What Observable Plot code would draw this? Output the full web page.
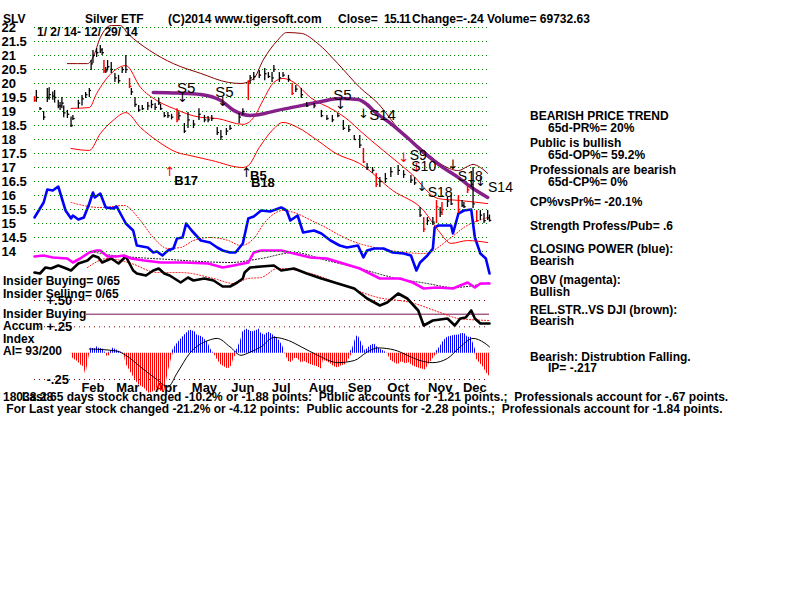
<!DOCTYPE html>
<html><head><meta charset="utf-8">
<script src="https://cdn.jsdelivr.net/npm/d3@7"></script>
<script src="https://cdn.jsdelivr.net/npm/@observablehq/plot@0.6"></script>
<style>
body{margin:0;background:#fff}
#wrap{position:relative;width:800px;height:600px;overflow:hidden;background:#fff;font-family:"Liberation Sans",Arial,sans-serif}
#wrap svg{position:absolute;left:0;top:0}
.t{position:absolute;white-space:pre;font-weight:bold;font-size:12px;line-height:15px;color:#000}
</style></head><body><div id="wrap"></div>
<script>
// ---------- DATA ----------
const monthTickDays = [32,51,72,93,114,135,157,178,199,222,241];
const monthLabels = ["Feb","Mar","Apr","May","Jun","Jul","Aug","Sep","Oct","Nov","Dec"];
const priceTicks = [14,14.5,15,15.5,16,16.5,17,17.5,18,18.5,19,19.5,20,20.5,21,21.5,22];
const accTicks = [-0.25,0.25,0.5];
const accTickLabels = ["-.25","+.25","+.50"];
const insiderLevel = 0.37;

const barDay   = [0,1,3,5,7,8,10,11,13,14,15,16,18,20,21,24,26,28,30,31,32,34,36,37,38,39,40,42,44,46,48,50,52,53,55,57,59,62,64,66,68,69,71,73,75,78,79,82,84,87,90,93,95,97,100,102,105,107,112,114,117,118,120,123,126,128,130,131,134,136,139,141,143,146,149,153,157,160,163,166,169,172,175,178,180,182,185,187,189,192,195,199,202,206,208,211,213,215,218,220,222,223,226,228,232,234,235,237,239,240,242,244,246,248,249];
const barHigh  = [19.53,19.75,19.14,19.00,19.82,19.85,19.70,19.75,19.40,19.32,19.50,19.20,19.04,18.80,18.86,19.40,19.57,19.68,19.82,20.82,21.18,21.25,21.36,21.25,20.82,20.57,20.82,20.75,20.36,20.29,20.57,21.00,20.18,19.82,19.50,19.21,19.21,19.32,19.40,19.29,19.46,19.25,18.96,18.96,18.90,19.10,18.96,18.57,18.96,18.68,19.10,18.86,18.82,18.86,18.43,18.32,18.39,18.50,18.93,19.10,20.10,20.29,20.39,20.46,20.54,20.39,20.39,20.64,20.39,20.39,20.29,20.00,19.93,19.82,19.32,19.29,19.04,18.86,18.86,18.93,18.68,18.50,18.14,18.14,17.68,17.14,17.00,16.79,16.64,16.79,17.00,17.07,16.89,16.71,16.64,15.57,15.21,15.21,15.21,15.82,15.57,15.75,15.93,16.00,16.00,15.82,15.75,16.36,16.54,17.00,15.46,15.46,15.36,15.46,15.30];
const barLow   = [19.33,19.33,19.04,18.68,19.32,19.40,19.40,19.30,19.10,19.04,19.10,18.78,18.75,18.43,18.68,19.10,19.20,19.46,19.50,20.46,20.71,20.93,21.07,21.00,20.36,20.36,20.46,20.36,20.04,20.00,20.36,20.36,19.82,19.57,19.14,18.96,19.04,19.04,19.10,19.04,19.21,19.04,18.78,18.75,18.70,18.60,18.68,18.21,18.39,18.39,18.68,18.60,18.60,18.64,18.14,17.96,18.14,18.32,18.57,18.86,19.39,20.00,20.10,20.18,20.10,20.18,20.04,20.39,20.04,20.21,20.04,19.57,19.68,19.46,19.14,19.10,18.78,18.68,18.60,18.78,18.32,18.25,17.96,17.68,17.14,16.89,16.79,16.29,16.29,16.43,16.64,16.71,16.61,16.43,16.36,15.21,14.68,14.93,14.93,15.00,15.21,15.29,15.57,15.64,15.36,15.57,15.54,16.07,16.29,15.54,15.04,15.11,15.00,15.11,15.05];
const barClose = [19.40,19.50,19.10,18.80,19.50,19.60,19.55,19.50,19.20,19.20,19.30,18.95,18.90,18.50,18.75,19.30,19.45,19.60,19.75,20.70,21.00,21.10,21.20,21.10,20.45,20.45,20.60,20.50,20.20,20.10,20.50,20.50,19.90,19.70,19.25,19.05,19.10,19.20,19.25,19.15,19.30,19.10,18.85,18.85,18.80,18.70,18.85,18.30,18.70,18.55,18.90,18.70,18.70,18.75,18.25,18.10,18.30,18.40,18.80,19.00,20.00,20.20,20.25,20.30,20.35,20.25,20.20,20.50,20.20,20.30,20.15,19.65,19.80,19.60,19.20,19.20,18.85,18.75,18.70,18.85,18.40,18.35,18.00,17.80,17.20,17.00,16.90,16.40,16.50,16.60,16.85,16.90,16.75,16.55,16.45,15.30,14.80,15.10,15.05,15.60,15.40,15.50,15.80,15.70,15.50,15.65,15.60,16.20,16.40,15.70,15.10,15.30,15.10,15.20,15.11];
const redDays = [0,38,52,78,117,141,180,187,213,220,223,232,237,242];

// 65-day moving average (purple)
const ma65 = [[65,19.68],[78,19.66],[91,19.61],[102,19.39],[109,19.04],[118,18.86],[126,18.93],[133,19.04],[146,19.21],[157,19.36],[167,19.46],[177,19.43],[182,19.25],[186,19.0],[195,18.57],[204,18.07],[213,17.54],[222,17.07],[232,16.64],[240,16.25],[248,15.93]];
// outer band (brown)
const outerBand = [[18,20.71],[29,20.71],[32,20.93],[36,21.64],[42,22.07],[47,22.07],[51,21.79],[63,21.18],[76,20.71],[91,20.36],[106,20.04],[113,20.0],[120,20.18],[125,20.82],[133,21.54],[138,21.82],[146,21.79],[155,21.43],[166,20.71],[178,19.86],[188,19.29],[200,18.32],[213,17.61],[222,17.14],[232,16.89],[237,17.04],[240,17.11],[244,17.0],[248,16.79]];
// upper / lower bands (red)
const upperBand = [[20,19.11],[30,19.14],[34,19.64],[42,20.36],[50,20.64],[58,19.86],[67,19.39],[76,19.11],[91,18.79],[100,18.75],[114,18.54],[120,18.79],[125,19.39],[131,20.04],[136,20.18],[142,20.04],[151,19.5],[164,19.04],[172,18.68],[178,18.32],[191,17.6],[206,16.79],[221,15.89],[233,15.82],[248,15.71]];
const lowerBand = [[20,17.68],[30,17.61],[36,18.21],[43,18.68],[50,18.96],[58,18.43],[67,17.96],[78,17.54],[85,17.43],[97,17.25],[114,17.0],[117,17.07],[123,17.71],[130,18.32],[136,18.61],[144,18.43],[155,17.96],[165,17.5],[178,17.14],[196,16.18],[213,15.46],[221,14.75],[228,14.29],[237,14.39],[248,14.32]];

// Closing Power (blue), OBV (magenta), relative strength (black) in indicator units
const closingPower = [[0,38],[5,53],[7,66],[10,65],[13,69],[14,63],[17,45],[20,37],[21,40],[24,36],[27,38],[30,52],[32,63],[33,58],[36,62],[39,48],[43,47],[45,49],[47,42],[50,32],[54,25],[56,10],[62,8],[65,3],[67,4],[70,0],[73,5],[76,7],[78,17],[81,18],[83,32],[86,25],[91,15],[96,13],[100,8],[103,5],[107,3],[110,3],[114,12],[117,37],[120,39],[124,45],[129,44],[135,48],[138,45],[140,35],[144,40],[147,23],[153,25],[157,22],[162,15],[167,10],[171,8],[177,10],[180,-2],[182,5],[186,7],[191,7],[196,3],[202,2],[206,0],[209,-15],[211,-7],[215,0],[218,7],[219,28],[221,30],[228,30],[229,22],[232,42],[235,45],[239,46],[241,18],[244,2],[247,-3],[249,-18]];
const obv = [[0,-1],[5,0],[10,-2],[18,-3],[21,-7],[25,-3],[30,3],[34,5],[36,5],[40,-1],[45,-1],[49,0],[53,-3],[60,-5],[69,-7],[82,-7],[95,-8],[103,-12],[109,-10],[117,-7],[120,3],[124,5],[135,5],[142,2],[151,-2],[160,-3],[169,-8],[178,-13],[189,-23],[200,-23],[207,-27],[213,-33],[220,-32],[229,-33],[237,-27],[241,-32],[244,-28],[249,-28]];
const relStrength = [[0,-17],[3,-18],[6,-12],[9,-13],[13,-10],[16,-12],[20,-15],[24,-8],[29,-5],[32,0],[35,-2],[37,-7],[42,-3],[46,-8],[50,-1],[54,-15],[56,-18],[61,-20],[65,-15],[68,-13],[71,-18],[74,-20],[80,-27],[84,-22],[87,-25],[93,-23],[98,-25],[103,-31],[107,-31],[111,-27],[114,-23],[115,-17],[118,-12],[124,-11],[131,-10],[135,-15],[142,-13],[149,-18],[157,-23],[166,-28],[175,-33],[182,-43],[189,-50],[193,-47],[199,-38],[204,-43],[210,-55],[213,-70],[218,-65],[226,-63],[230,-70],[233,-63],[236,-62],[239,-55],[241,-63],[244,-68],[249,-68]];
const cpMA = [[20,53],[36,48],[49,50],[58,35],[65,18],[73,7],[80,8],[87,15],[96,18],[106,15],[113,10],[120,17],[126,33],[136,45],[155,32],[173,15],[195,5],[213,2],[228,18],[235,28],[248,38]];
const rsMA = [[29,-12],[40,-3],[53,-8],[67,-17],[80,-17],[98,-23],[109,-28],[117,-23],[124,-22],[133,-13],[151,-18],[169,-30],[188,-42],[206,-47],[222,-57],[232,-63],[249,-65]];
const obvMA = [[31,4],[43,0],[56,-2],[74,-4],[91,-6],[107,-7],[124,-3],[142,3],[160,-5],[178,-13],[196,-22],[215,-28],[229,-32],[249,-27]];

// Accumulation index
const accum = [[20,0],[21,-0.05],[24,-0.085],[25,-0.11],[27,-0.13],[28,-0.21],[29,-0.12],[30,-0.02],[31,0.05],[33,0.04],[34,0.06],[36,0.04],[37,0.05],[39,0],[40,-0.04],[42,0.02],[43,0.05],[45,0.03],[47,0.01],[49,0],[50,-0.1],[53,-0.19],[55,-0.25],[57,-0.3],[60,-0.33],[62,-0.37],[63,-0.38],[66,-0.36],[67,-0.33],[69,-0.36],[71,-0.38],[72,-0.3],[73,-0.19],[75,-0.05],[76,0.04],[78,0.09],[80,0.13],[82,0.17],[84,0.2],[85,0.22],[88,0.2],[89,0.17],[91,0.16],[92,0.15],[95,0.1],[96,0.05],[98,0],[100,-0.06],[102,-0.11],[105,-0.14],[106,-0.15],[108,-0.12],[109,-0.05],[111,0.04],[113,0.13],[114,0.2],[116,0.23],[118,0.21],[119,0.2],[121,0.21],[123,0.23],[124,0.19],[126,0.17],[128,0.2],[130,0.18],[132,0.15],[134,0.12],[136,0.06],[137,0],[139,-0.08],[141,-0.09],[142,-0.05],[144,-0.05],[146,-0.09],[148,-0.08],[150,-0.1],[153,-0.12],[155,-0.13],[157,-0.15],[158,-0.07],[160,-0.08],[162,-0.1],[164,-0.13],[166,-0.14],[168,-0.12],[170,-0.11],[172,-0.06],[174,0.04],[176,0.15],[177,0.17],[179,0.1],[181,0.02],[182,0.04],[184,0.07],[186,0.09],[188,0.05],[189,0.04],[192,0.01],[193,0],[195,-0.07],[197,-0.09],[199,-0.11],[201,-0.08],[203,-0.1],[205,-0.09],[207,-0.12],[210,-0.14],[212,-0.15],[214,-0.16],[216,-0.1],[217,-0.08],[219,-0.03],[221,0.04],[223,0.09],[224,0.12],[226,0.15],[228,0.16],[230,0.17],[232,0.17],[234,0.19],[236,0.18],[237,0.15],[239,0.15],[241,0.05],[242,-0.06],[244,-0.1],[246,-0.14],[247,-0.18],[249,-0.22]];
const accumMA = [[30,0.04],[45,0.02],[50,-0.02],[58,-0.13],[67,-0.25],[73,-0.32],[78,-0.19],[85,0],[95,0.12],[100,0.14],[107,0.06],[113,-0.02],[118,0.01],[124,0.06],[131,0.15],[139,0.12],[146,0.06],[155,-0.02],[166,-0.09],[175,-0.07],[182,0.01],[188,0.05],[197,0.03],[204,-0.02],[211,-0.07],[218,-0.09],[226,-0.05],[233,0.06],[240,0.14],[246,0.1],[249,0.06]];

// signals
const sigText   = ["S5","S5","S5","S14","B17","B5","B18","S9","S10","S18","S18","S14"];
const sigDay    = [83,104,168.5,190.5,83,122.5,125,210,213,222,238.5,255];
const sigPrice  = [19.82,19.68,19.57,18.86,16.54,16.71,16.46,17.43,17.04,16.11,16.68,16.29];
const sigSize   = [15,15,15,15,13,13,13,14,14,14,14,14];
const sigWeight = ["normal","normal","normal","normal","bold","bold","bold","normal","normal","normal","normal","normal"];
const arrowChar  = ["↓","↓","↓","↓","↑","↑","↓","↓","↓","↓","↓"];
const arrowDay   = [81,103,167.5,180,74,116,202,209,212,229,244];
const arrowPrice = [19.5,19.36,19.25,18.93,16.86,16.82,17.36,17.0,16.32,17.11,16.5];
const arrowColor = ["#000","#000","#000","#000","#f00","#000","#f00","#f00","#000","#000","#000"];

// ---------- RENDER ----------
const wrap = document.getElementById("wrap");
const font = "Liberation Sans, Arial, sans-serif";
const base = {
  width: 800, height: 600, marginLeft: 34, marginRight: 311,
  x: {domain: [0, 249], axis: null},
  style: {background: "transparent", overflow: "visible", fontFamily: font, fontSize: "13px", fontWeight: "bold", color: "#000"}
};
const bars = barDay.map((d, i) => ({day: d, high: barHigh[i], low: barLow[i], close: barClose[i], red: redDays.includes(d)}));
const P = () => ({x: d => d[0], y: d => d[1]});
const signals = sigText.map((t, i) => ({text: t, day: sigDay[i], price: sigPrice[i], size: sigSize[i], weight: sigWeight[i]}));
const arrows = arrowChar.map((t, i) => ({text: t, day: arrowDay[i], price: arrowPrice[i], color: arrowColor[i]}));

const pricePlot = Plot.plot({
  ...base, marginTop: 27, marginBottom: 349,
  y: {domain: [14, 22], axis: null},
  marks: [
    Plot.gridY(priceTicks, {stroke: "#008000", strokeOpacity: 1, strokeDasharray: "1 3"}),
    Plot.axisY(priceTicks, {tickSize: 0, textAnchor: "start", dx: -24, tickFormat: d => String(d), fontSize: 13}),
    Plot.line(outerBand, {...P(), stroke: "#8b0000", strokeWidth: 1, curve: "monotone-x"}),
    Plot.line(upperBand, {...P(), stroke: "#ff0000", strokeWidth: 1, curve: "monotone-x"}),
    Plot.line(lowerBand, {...P(), stroke: "#ff0000", strokeWidth: 1, curve: "monotone-x"}),
    Plot.line(ma65, {...P(), stroke: "#85208a", strokeWidth: 3.5, curve: "monotone-x"}),
    Plot.ruleX(bars.filter(d => !d.red), {x: "day", y1: "low", y2: "high", stroke: "#000", strokeWidth: 1.3}),
    Plot.link(bars.filter(d => !d.red), {x1: "day", x2: d => d.day + 1, y1: "close", y2: "close", stroke: "#000", strokeWidth: 1.3}),
    Plot.ruleX(bars.filter(d => d.red), {x: "day", y1: "low", y2: "high", stroke: "#ff0000", strokeWidth: 1.5}),
    Plot.link(bars.filter(d => d.red), {x1: "day", x2: d => d.day + 1, y1: "close", y2: "close", stroke: "#ff0000", strokeWidth: 1.3}),
    Plot.text(arrows, {x: "day", y: "price", text: "text", fill: "color", fontSize: 13, fontWeight: "normal", fontFamily: "DejaVu Sans"}),
    Plot.text(signals.filter(d => d.weight === "normal"), {x: "day", y: "price", text: "text", fontSize: "size", fontWeight: "normal", fill: "#000"}),
    Plot.text(signals.filter(d => d.weight === "bold"), {x: "day", y: "price", text: "text", fontSize: "size", fontWeight: "bold", fill: "#000"})
  ]
});

const indPlot = Plot.plot({
  ...base, marginTop: 175, marginBottom: 265,
  y: {domain: [-80, 80], axis: null},
  marks: [
    Plot.line(cpMA, {...P(), stroke: "#ff0000", strokeWidth: 1, strokeDasharray: "1 2", curve: "monotone-x"}),
    Plot.line(rsMA, {...P(), stroke: "#ff0000", strokeWidth: 1, strokeDasharray: "1 2", curve: "monotone-x"}),
    Plot.line(obvMA, {...P(), stroke: "#000", strokeWidth: 1, strokeDasharray: "1 2", curve: "monotone-x"}),
    Plot.line(relStrength, {...P(), stroke: "#000", strokeWidth: 2.6}),
    Plot.line(obv, {...P(), stroke: "#ff00ff", strokeWidth: 2.6}),
    Plot.line(closingPower, {...P(), stroke: "#0000ff", strokeWidth: 2.6})
  ]
});

const accPlot = Plot.plot({
  ...base, marginTop: 300, marginBottom: 221,
  y: {domain: [-0.25, 0.5], axis: null},
  marks: [
    Plot.axisX(monthTickDays, {tickSize: 0, tickPadding: 3, tickFormat: (d, i) => monthLabels[i], fontSize: 13}),
    Plot.gridY(accTicks, {stroke: "#800000", strokeOpacity: 1, strokeDasharray: "1 4"}),
    Plot.axisY(accTicks, {tickSize: 0, textAnchor: "start", dx: 21, tickFormat: (d, i) => accTickLabels[i], fontSize: 13}),
    Plot.ruleY([insiderLevel], {stroke: "#7a1050", strokeWidth: 1}),
    Plot.areaY(accum, {x: d => d[0], y1: 0, y2: d => Math.max(d[1], 0), fill: "url(#stB)"}),
    Plot.areaY(accum, {x: d => d[0], y1: 0, y2: d => Math.min(d[1], 0), fill: "url(#stR)"}),
    Plot.line(accumMA, {...P(), stroke: "#000", strokeWidth: 1, curve: "monotone-x"})
  ]
});

function addPattern(svg, id, color) {
  const ns = "http://www.w3.org/2000/svg";
  let defs = svg.querySelector("defs");
  if (!defs) { defs = document.createElementNS(ns, "defs"); svg.insertBefore(defs, svg.firstChild); }
  const p = document.createElementNS(ns, "pattern");
  p.setAttribute("id", id); p.setAttribute("width", "2"); p.setAttribute("height", "4");
  p.setAttribute("patternUnits", "userSpaceOnUse");
  const r = document.createElementNS(ns, "rect");
  r.setAttribute("width", "1"); r.setAttribute("height", "4"); r.setAttribute("fill", color);
  p.appendChild(r); defs.appendChild(p);
}
addPattern(accPlot, "stB", "#0000ff");
addPattern(accPlot, "stR", "#ff0000");

wrap.appendChild(accPlot);
wrap.appendChild(indPlot);
wrap.appendChild(pricePlot);

function T(s, x, y, extra) {
  const d = document.createElement("div");
  d.className = "t"; d.textContent = s;
  d.style.left = x + "px"; d.style.top = (y - 8) + "px";
  if (extra) Object.assign(d.style, extra);
  wrap.appendChild(d);
}
// header
T("SLV", 3, 20); T("Silver ETF", 85, 20); T("(C)2014 www.tigersoft.com", 168, 20);
T("Close=", 338, 20); T("15.11", 384, 20, {letterSpacing: "-0.6px"}); T("Change=-.24 Volume= 69732.63", 412, 20);
T("1/ 2/ 14- 12/ 29/ 14", 37, 33);
// left panel labels
T("Insider Buying= 0/65", 3, 282);
T("Insider Selling= 0/65", 3, 295);
T("Insider Buying", 3, 315, {background: "#fff"});
T("Accum", 3, 327); T("Index", 3, 340); T("AI= 93/200", 3, 352);
// right panel
T("BEARISH PRICE TREND", 530, 117); T("65d-PR%= 20%", 548, 129);
T("Public is bullish", 530, 144); T("65d-OP%= 59.2%", 548, 156);
T("Professionals are bearish", 530, 171); T("65d-CP%= 0%", 548, 183);
T("CP%vsPr%= -20.1%", 530, 203);
T("Strength Profess/Pub= .6", 530, 227);
T("CLOSING POWER (blue):", 530, 250); T("Bearish", 530, 262);
T("OBV (magenta):", 530, 281); T("Bullish", 530, 293);
T("REL.STR..VS DJI (brown):", 530, 311); T("Bearish", 530, 322);
T("Bearish: Distrubtion Falling.", 530, 358); T("IP= -.217", 548, 369);
// bottom
T("18038.28", 3, 398);
T("Last 65 days stock changed -10.2% or -1.88 points:  Public accounts for -1.21 points.;  Professionals account for -.67 points.", 22, 398);
T(" For Last year stock changed -21.2% or -4.12 points:  Public accounts for -2.28 points.;  Professionals account for -1.84 points.", 3, 410);
</script></body></html>
